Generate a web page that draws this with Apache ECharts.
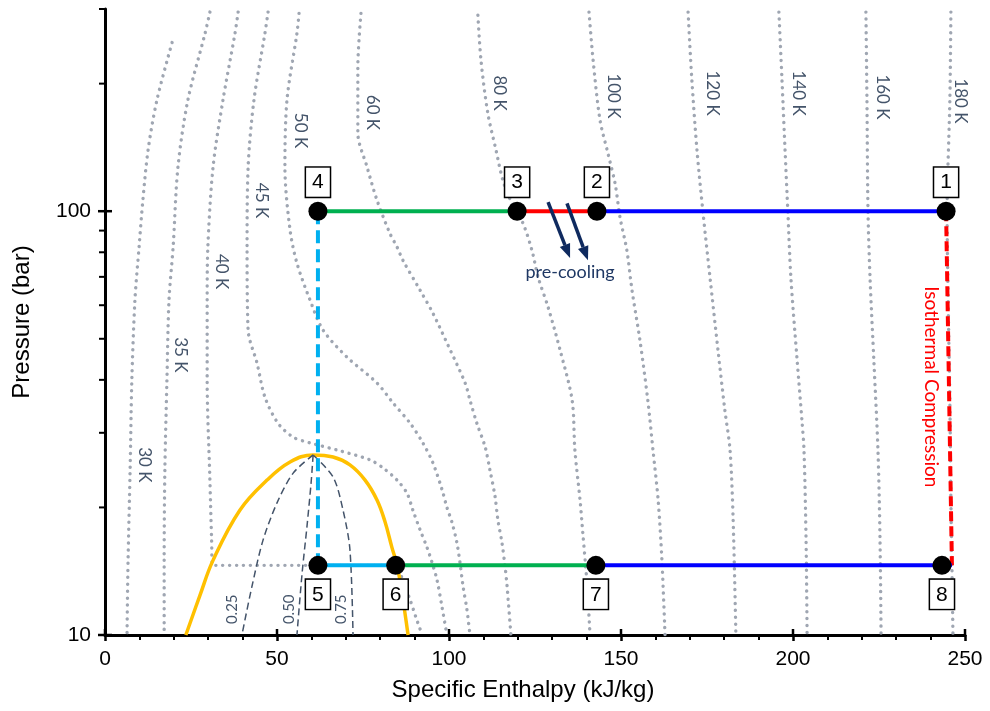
<!DOCTYPE html>
<html>
<head>
<meta charset="utf-8">
<script src="https://cdn.jsdelivr.net/npm/echarts@6/dist/echarts.min.js"></script>
<style>
  html, body { margin: 0; padding: 0; background: #fff; }
  #chart { width: 990px; height: 711px; }
</style>
</head>
<body>
<div id="chart"></div>
<script>
// isotherms, [enthalpy kJ/kg, pressure bar]
const iso30 = [[19.5, 250], [15.1, 183], [12.5, 139], [11.0, 106], [9.9, 82.3], [8.7, 61.7], [7.8, 39.9], [7.3, 24.5], [6.7, 15.0], [6.4, 10]]
const iso35 = [[30.5, 295], [29.1, 263], [24.1, 183], [21.2, 127], [19.8, 82.3], [18.6, 61.7], [18.0, 39.9], [17.4, 24.5], [17.2, 15.0], [17.2, 10]]
const iso40 = [[38.7, 295], [37.8, 263], [34.3, 183], [31.4, 127], [29.9, 82.3], [29.7, 61.7], [29.7, 39.9], [30.5, 23.2], [31.0, 16.7], [31.3, 14.6], [84.6, 14.6], [85.8, 14.0], [87.2, 13.0], [88.7, 12.1], [90.4, 11.0], [92.2, 10]]
const iso45 = [[47.4, 295], [46.5, 263], [43.3, 183], [41.6, 127], [41.3, 82.3], [41.6, 52.4], [44.2, 43.8], [46.5, 36.4], [50.3, 31.6], [54.7, 29.3], [59.6, 28.4], [68.3, 27.2], [77.0, 25.9], [80.8, 24.8], [84.9, 23.2], [87.8, 21.6], [89.5, 19.7], [91.6, 17.7], [93.6, 16.1], [95.1, 14.8], [96.5, 13.5], [98.0, 11.6], [99.4, 10]]
const iso50 = [[56.4, 293], [55.8, 263], [52.9, 183], [52.3, 127], [53.8, 90.2], [55.8, 75.4], [59.6, 61.7], [63.4, 52.4], [70.3, 45.3], [79.1, 39.3], [83.7, 35.3], [88.7, 31.6], [92.4, 28.4], [95.3, 25.5], [98.0, 22.0], [99.4, 20.0], [100.9, 18.4], [102.3, 16.5], [103.2, 14.8], [104.1, 13.0], [105.2, 11.5], [106.1, 10]]
const iso60 = [[74.4, 293], [73.5, 219], [73.5, 153], [76.2, 127], [79.1, 106], [82.8, 88.7], [84.9, 82.3], [86.6, 76.6], [91.6, 65.1], [95.3, 57.5], [99.7, 48.3], [104.7, 39.3], [106.1, 35.8], [108.1, 31.6], [110.5, 27.8], [111.9, 24.5], [113.4, 21.2], [114.2, 18.7], [115.4, 16.5], [116.3, 14.5], [116.9, 13.0], [118.0, 10]]
const iso80 = [[108.4, 290], [109.3, 227], [111.3, 170], [113.7, 139], [115.7, 118], [118.6, 103], [121.5, 93.7], [124.1, 80.9], [125.9, 69.9], [128.8, 59.4], [132.3, 47.0], [135.8, 35.8], [136.6, 27.3], [138.1, 20.8], [138.9, 17.4], [140.1, 13.3], [141.0, 10]]
const iso100 = [[140.7, 295], [141.9, 227], [143.9, 164], [146.2, 137], [148.3, 116], [149.7, 96.8], [151.7, 80.9], [153.2, 65.1], [155.5, 49.6], [157.8, 35.8], [159.3, 27.3], [160.8, 20.8], [161.9, 15.0], [162.8, 10]]
const iso120 = [[169.5, 295], [170.6, 204], [172.1, 139], [173.8, 100], [175.9, 69.5], [178.2, 47.0], [180.2, 33.9], [181.7, 27.3], [182.6, 18.7], [183.4, 10]]
const iso140 = [[195.9, 295], [196.8, 204], [197.7, 139], [198.5, 100], [199.4, 69.5], [201.2, 44.5], [202.6, 32.1], [203.2, 27.3], [203.8, 16.7], [204.1, 10]]
const iso160 = [[221.2, 295], [221.5, 183], [221.8, 100], [222.4, 69.5], [223.5, 44.5], [224.7, 27.3], [225.3, 16.7], [225.6, 10]]
const iso180 = [[245.9, 295], [245.6, 183], [244.8, 100], [245.1, 61.7], [245.6, 35.8], [245.9, 20.8], [246.2, 14.6], [246.5, 10]]
const isotherms = [iso30, iso35, iso40, iso45, iso50, iso60, iso80, iso100, iso120, iso140, iso160, iso180]

const isoNames = ['30 K', '35 K', '40 K', '45 K', '50 K', '60 K', '80 K', '100 K', '120 K', '140 K', '160 K', '180 K']
const isoNamePos = [[11.6, 25.2], [21.8, 45.8], [34.0, 72], [45.6, 106], [56.7, 155], [77.9, 171], [114.8, 190], [147.7, 187], [176.7, 190], [201.5, 190], [225.9, 186], [248.8, 182]]

// saturation dome and vapour quality lines
const dome = [[23.5, 10], [27.6, 12.4], [31.4, 15.0], [39.2, 19.7], [47.1, 23.2], [53.8, 25.6], [60.5, 26.6], [66.3, 26.3], [71.2, 25.2], [75.6, 23.2], [79.1, 20.8], [81.4, 18.5], [83.4, 16.1], [84.9, 14.6], [86.3, 12.6], [88.1, 10]]
const q25 = [[60.5, 26.6], [54.7, 24.1], [50.0, 20.5], [45.9, 16.7], [42.7, 13.0], [39.8, 10]]
const q50 = [[60.5, 26.6], [59.9, 22.8], [58.7, 18.0], [57.3, 14.0], [55.8, 10]]
const q75 = [[60.5, 26.6], [66.3, 23.6], [69.2, 19.7], [71.2, 15.9], [72.1, 10]]
const qNames = ['0.25', '0.50', '0.75']
const qNamePos = [[36.9, 11.5], [53.5, 11.5], [68.6, 11.5]]

// cycle state points 1..8
const stateNames = ['1', '2', '3', '4', '5', '6', '7', '8']
const stateH = [244.5, 143.0, 119.8, 61.9, 61.9, 84.5, 142.7, 243.3]
const stateP = [100, 100, 100, 100, 14.6, 14.6, 14.6, 14.6]
const compressEnd = [246.2, 14.6]

// pre-cooling arrows [h1, P1, h2, P2]
const arrows = [[128.8, 105.0, 135.2, 77.5], [134.3, 104.4, 140.4, 76.6]]
const notes = ['pre-cooling', 'Isothermal Compression']
const notePos = [[135.2, 71.8], [240.1, 38.5]]

const xTicks = [0, 50, 100, 150, 200, 250]
const yMajor = [10, 100]
const yMinor = [20, 30, 40, 50, 60, 70, 80, 90, 200, 300]

const pt = (i) => [stateH[i], stateP[i]]

const chart = echarts.init(document.getElementById('chart'))

const axisFont = 'Liberation Sans, Arial, sans-serif'
const noteFont = 'Lato, sans-serif'
const slate = '#44546a'

function seg(data, color, width, type, z) {
  return {
    type: 'line', data, showSymbol: false, symbol: 'none', silent: true, z: z || 5,
    lineStyle: { color, width, type: type || 'solid' }
  }
}

function tickSeries(data, draw) {
  return {
    type: 'custom', data, silent: true, clip: false, z: 20,
    renderItem: (params, api) => {
      const p = api.coord([api.value(0), api.value(1)])
      const s = draw(p)
      return { type: 'line', shape: { x1: s[0], y1: s[1], x2: s[2], y2: s[3] }, style: { stroke: '#000', lineWidth: s[4] } }
    }
  }
}

function textSeries(pos, texts, opts) {
  return {
    type: 'custom', data: pos, silent: true, clip: false, z: 30,
    renderItem: (params, api) => {
      const p = api.coord([api.value(0), api.value(1)])
      return {
        type: 'text', x: p[0], y: p[1], rotation: opts.rotation || 0,
        style: {
          text: texts[params.dataIndex], fill: opts.color, fontSize: opts.size,
          fontFamily: opts.family || noteFont, align: 'center', verticalAlign: 'middle'
        }
      }
    }
  }
}

const series = []

isotherms.forEach(d => {
  series.push({
    type: 'line', data: d, showSymbol: false, symbol: 'none', silent: true, z: 1,
    smooth: 0.3,
    lineStyle: { color: '#9fa6b2', width: 3.4, type: [0.1, 6.8], cap: 'round' }
  })
})

series.push(Object.assign(seg(dome, '#ffc000', 3.5, 'solid', 3), { smooth: 0.4 }))
;[q25, q50, q75].forEach(d => {
  series.push(Object.assign(seg(d, slate, 1.5, [7, 4], 3), { smooth: 0.3 }))
})

// cycle lines
series.push(seg([pt(3), pt(2)], '#00b050', 4))
series.push(seg([pt(2), pt(1)], '#ff0000', 4))
series.push(seg([pt(1), pt(0)], '#0000ff', 4))
series.push(seg([pt(0), compressEnd], '#ff0000', 4, [10, 5]))
series.push(seg([pt(3), pt(4)], '#00b0f0', 4, [13, 6]))
series.push(seg([pt(4), pt(5)], '#00b0f0', 4))
series.push(seg([pt(5), pt(6)], '#00b050', 4))
series.push(seg([pt(6), compressEnd], '#0000ff', 4))

// state points with boxed numbers
series.push({
  type: 'scatter', symbolSize: 19, z: 10, silent: true,
  itemStyle: { color: '#000', opacity: 1 },
  data: stateNames.map((n, i) => ({
    value: pt(i), name: n,
    label: { position: stateP[i] > 50 ? 'top' : 'bottom' }
  })),
  label: {
    show: true, formatter: '{b}', distance: 5,
    color: '#000', fontSize: 21, fontFamily: axisFont, lineHeight: 22,
    backgroundColor: '#fff', borderColor: '#000', borderWidth: 1.5, padding: [4, 6, 3, 6]
  }
})

// pre-cooling arrows
series.push({
  type: 'custom', data: arrows, silent: true, z: 12,
  renderItem: (params, api) => {
    const a = api.coord([api.value(0), api.value(1)])
    const b = api.coord([api.value(2), api.value(3)])
    const ang = Math.atan2(b[1] - a[1], b[0] - a[0])
    const L = 14, W = 5.5
    const bx = b[0] - L * Math.cos(ang), by = b[1] - L * Math.sin(ang)
    const nx = -Math.sin(ang), ny = Math.cos(ang)
    const c = '#0f2a5f'
    return {
      type: 'group', children: [
        { type: 'line', shape: { x1: a[0], y1: a[1], x2: bx, y2: by }, style: { stroke: c, lineWidth: 3.5 } },
        { type: 'polygon', shape: { points: [[b[0], b[1]], [bx + nx * W, by + ny * W], [bx - nx * W, by - ny * W]] }, style: { fill: c } }
      ]
    }
  }
})

// texts
series.push(textSeries(isoNamePos, isoNames, { color: slate, size: 17, rotation: -Math.PI / 2 }))
series.push(textSeries(qNamePos, qNames, { color: slate, size: 15, rotation: Math.PI / 2 }))
series.push(textSeries([notePos[0]], [notes[0]], { color: '#1f3864', size: 18 }))
series.push(textSeries([notePos[1]], [notes[1]], { color: '#ff0000', size: 19, rotation: -Math.PI / 2 }))

// axis ticks: crossing majors, outward minors
series.push(tickSeries(xTicks.map(v => [v, 10]), p => [p[0], p[1] - 6, p[0], p[1], 2.5]))
series.push(tickSeries(yMajor.map(v => [0, v]), p => [p[0] - 7, p[1], p[0] + 7, p[1], 2.5]))
series.push(tickSeries(yMinor.map(v => [0, v]), p => [p[0] - 6, p[1], p[0], p[1], 2]))

const option = {
  animation: false,
  backgroundColor: '#fff',
  grid: { left: 105, right: 25, top: 9, bottom: 76 },
  xAxis: {
    type: 'value', min: 0, max: 250, interval: 50,
    axisLine: { show: true, onZero: false, lineStyle: { color: '#000', width: 3 } },
    axisTick: { show: true, length: 6, lineStyle: { color: '#000', width: 2.5 } },
    minorTick: { show: true, splitNumber: 5, length: 5, lineStyle: { color: '#000', width: 2 } },
    splitLine: { show: false },
    axisLabel: { color: '#000', fontSize: 21, fontFamily: axisFont, margin: 14 },
    name: 'Specific Enthalpy (kJ/kg)', nameLocation: 'middle', nameGap: 43,
    nameTextStyle: { color: '#000', fontSize: 24, fontFamily: axisFont, padding: [0, 24, 0, 0] }
  },
  yAxis: {
    type: 'log', logBase: 10, min: 10, max: 300,
    axisLine: { show: true, onZero: false, lineStyle: { color: '#000', width: 3 } },
    axisTick: { show: false },
    minorTick: { show: false },
    splitLine: { show: false },
    axisLabel: {
      color: '#000', fontSize: 21, fontFamily: axisFont, margin: 14,
      formatter: v => (yMajor.indexOf(Math.round(v)) >= 0 ? String(Math.round(v)) : '')
    },
    name: 'Pressure (bar)', nameLocation: 'middle', nameGap: 71, nameRotate: 90,
    nameTextStyle: { color: '#000', fontSize: 24, fontFamily: axisFont }
  },
  series
}

chart.setOption(option)
</script>
</body>
</html>
